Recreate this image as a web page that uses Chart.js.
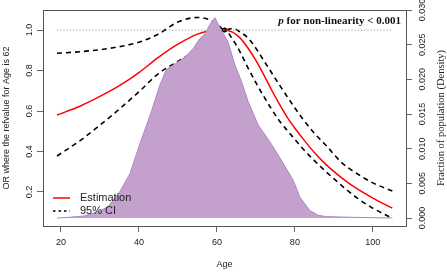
<!DOCTYPE html>
<html>
<head>
<meta charset="utf-8">
<script src="https://cdn.jsdelivr.net/npm/chart.js@4"></script>
<style>
  body { margin: 0; background: #fff; }
  #wrap { width: 447px; height: 272px; }
</style>
</head>
<body>
<div id="wrap"><canvas id="c" width="447" height="272"></canvas></div>
<script>
// ---- data ----
const curveAge = [19, 25, 30, 35, 40, 45, 50, 55, 58, 60, 62, 64, 66, 68, 70, 72, 74, 76, 78, 80, 82, 85, 88, 92, 96, 100, 105];
const estimate = [0.58, 0.625, 0.672, 0.725, 0.79, 0.865, 0.93, 0.98, 0.997, 1.003, 1.0, 0.99, 0.96, 0.91, 0.85, 0.78, 0.705, 0.635, 0.57, 0.515, 0.465, 0.395, 0.335, 0.27, 0.215, 0.17, 0.12];
const upperCI = [0.885, 0.893, 0.903, 0.918, 0.94, 0.98, 1.04, 1.062, 1.052, 1.03, 1.0, 1.007, 0.99, 0.96, 0.91, 0.85, 0.79, 0.73, 0.672, 0.615, 0.562, 0.49, 0.43, 0.345, 0.29, 0.245, 0.205];
const lowerCI = [0.378, 0.455, 0.53, 0.61, 0.695, 0.785, 0.845, 0.905, 0.94, 0.965, 1.0, 0.955, 0.89, 0.812, 0.74, 0.673, 0.61, 0.552, 0.505, 0.46, 0.415, 0.355, 0.3, 0.232, 0.17, 0.12, 0.07];

const densAge = [19, 22, 26, 30, 32, 35, 37.7, 40.3, 42.8, 45.4, 47, 50, 52, 54, 55.5, 57, 58.2, 59.5, 60.8, 62.8, 64.6, 66.3, 68, 70.6, 72, 74.4, 77, 79.6, 81.3, 83.8, 86, 88, 95, 105];
const density = [0, 0.0001, 0.0003, 0.001, 0.0016, 0.0037, 0.0064, 0.0108, 0.0147, 0.0192, 0.0214, 0.0225, 0.0233, 0.0245, 0.0258, 0.0266, 0.0279, 0.0289, 0.0274, 0.0255, 0.0221, 0.0197, 0.0168, 0.0134, 0.0123, 0.0103, 0.0079, 0.0054, 0.003, 0.0011, 0.0004, 0.0002, 0.0001, 0];

const refLineAge = [19, 105];
const refLineOR = [1, 1];
const refAge = [62];
const refOR = [1.0];

const xTicks = [20, 40, 60, 80, 100];
const yTicks = [0.2, 0.4, 0.6, 0.8, 1.0];
const y2Ticks = [0, 0.005, 0.01, 0.015, 0.02, 0.025, 0.03];

const SANS = '"Liberation Sans", Arial, sans-serif';
const SERIF = '"Liberation Serif", "Times New Roman", serif';

function pts(xs, ys) {
    return xs.map((x, i) => ({ x: x, y: ys[i] }));
}

// ---- labels, titles, box, legend ----
const decor = {
    id: 'decor',
    afterDraw(chart) {
        const ctx = chart.ctx;
        const a = chart.chartArea;
        const sx = chart.scales.x, sy = chart.scales.y, sy2 = chart.scales.y2;
        ctx.save();

        // box
        ctx.strokeStyle = '#555';
        ctx.lineWidth = 1;
        ctx.strokeRect(Math.round(a.left) + 0.5, Math.round(a.top) + 0.5,
            Math.round(a.right - a.left), Math.round(a.bottom - a.top));

        ctx.fillStyle = '#222';
        ctx.font = '9px ' + SANS;
        ctx.textAlign = 'center';
        ctx.textBaseline = 'middle';
        sx.ticks.forEach(t => ctx.fillText(String(t.value), sx.getPixelForValue(t.value), 243));
        ctx.fillText('Age', (a.left + a.right) / 2, 265);

        const rot = (txt, x, y) => {
            ctx.save();
            ctx.translate(x, y);
            ctx.rotate(-Math.PI / 2);
            ctx.fillText(txt, 0, 0);
            ctx.restore();
        };
        sy.ticks.forEach(t => rot(t.value.toFixed(1), 29.5, sy.getPixelForValue(t.value)));
        sy2.ticks.forEach(t => rot(t.value.toFixed(3), 423, sy2.getPixelForValue(t.value)));
        rot('OR where the refvalue for Age is 62', 7, (a.top + a.bottom) / 2);
        ctx.font = '10.5px ' + SERIF;
        rot('Fraction of population (Density)', 441, (a.top + a.bottom) / 2);

        // p-value note
        ctx.textAlign = 'left';
        const rest = ' for non-linearity < 0.001';
        ctx.font = 'bold 11px ' + SERIF;
        const wRest = ctx.measureText(rest).width;
        ctx.font = 'italic bold 11px ' + SERIF;
        const wP = ctx.measureText('p').width;
        const x0 = 401 - wRest - wP;
        ctx.fillStyle = '#111';
        ctx.fillText('p', x0, 21);
        ctx.font = 'bold 11px ' + SERIF;
        ctx.fillText(rest, x0 + wP, 21);

        // legend
        ctx.lineWidth = 1.5;
        ctx.strokeStyle = '#ff0000';
        ctx.beginPath(); ctx.moveTo(53, 198); ctx.lineTo(70, 198); ctx.stroke();
        ctx.strokeStyle = '#000';
        ctx.setLineDash([2.5, 3]);
        ctx.beginPath(); ctx.moveTo(53, 211); ctx.lineTo(70, 211); ctx.stroke();
        ctx.setLineDash([]);
        ctx.fillStyle = '#222';
        ctx.font = '11px ' + SANS;
        ctx.fillText('Estimation', 80, 198);
        ctx.fillText('95% CI', 80, 211);
        ctx.restore();
    }
};

const gridOpts = { drawOnChartArea: false, drawTicks: true, tickLength: 6, color: '#666' };

new Chart(document.getElementById('c'), {
    type: 'line',
    data: {
        datasets: [
            { data: pts(refLineAge, refLineOR), yAxisID: 'y', borderColor: '#aaa', borderWidth: 1.3,
              borderDash: [1.2, 2], pointRadius: 0, fill: false },
            { data: pts(densAge, density), yAxisID: 'y2', borderColor: '#ad86c4', borderWidth: 1,
              backgroundColor: '#c4a1cd', pointRadius: 0, fill: 'origin', tension: 0 },
            { data: pts(curveAge, upperCI), yAxisID: 'y', borderColor: '#000', borderWidth: 1.6,
              borderDash: [5, 4], pointRadius: 0, fill: false, cubicInterpolationMode: 'monotone' },
            { data: pts(curveAge, lowerCI), yAxisID: 'y', borderColor: '#000', borderWidth: 1.6,
              borderDash: [5, 4], pointRadius: 0, fill: false, cubicInterpolationMode: 'monotone' },
            { data: pts(curveAge, estimate), yAxisID: 'y', borderColor: '#ff0000', borderWidth: 1.5,
              pointRadius: 0, fill: false, cubicInterpolationMode: 'monotone' },
            { data: pts(refAge, refOR), yAxisID: 'y', showLine: false, pointRadius: 2.5,
              pointBackgroundColor: '#000', pointBorderWidth: 0 }
        ]
    },
    options: {
        responsive: false,
        devicePixelRatio: 1,
        animation: false,
        layout: { padding: { top: 10, left: 0, right: 0, bottom: 0 } },
        plugins: { legend: { display: false }, tooltip: { enabled: false } },
        scales: {
            x: {
                type: 'linear', min: 15.4, max: 108.5,
                afterBuildTicks: s => { s.ticks = xTicks.map(v => ({ value: v })); },
                afterFit: s => { s.height = 46; },
                ticks: { display: false },
                grid: gridOpts, border: { display: false }
            },
            y: {
                position: 'left', min: 0.032, max: 1.099,
                afterBuildTicks: s => { s.ticks = yTicks.map(v => ({ value: v })); },
                afterFit: s => { s.width = 43; },
                ticks: { display: false },
                grid: gridOpts, border: { display: false }
            },
            y2: {
                position: 'right', min: -0.00115, max: 0.030,
                afterBuildTicks: s => { s.ticks = y2Ticks.map(v => ({ value: v })); },
                afterFit: s => { s.width = 41; },
                ticks: { display: false },
                grid: gridOpts, border: { display: false }
            }
        }
    },
    plugins: [decor]
});
</script>
</body>
</html>
